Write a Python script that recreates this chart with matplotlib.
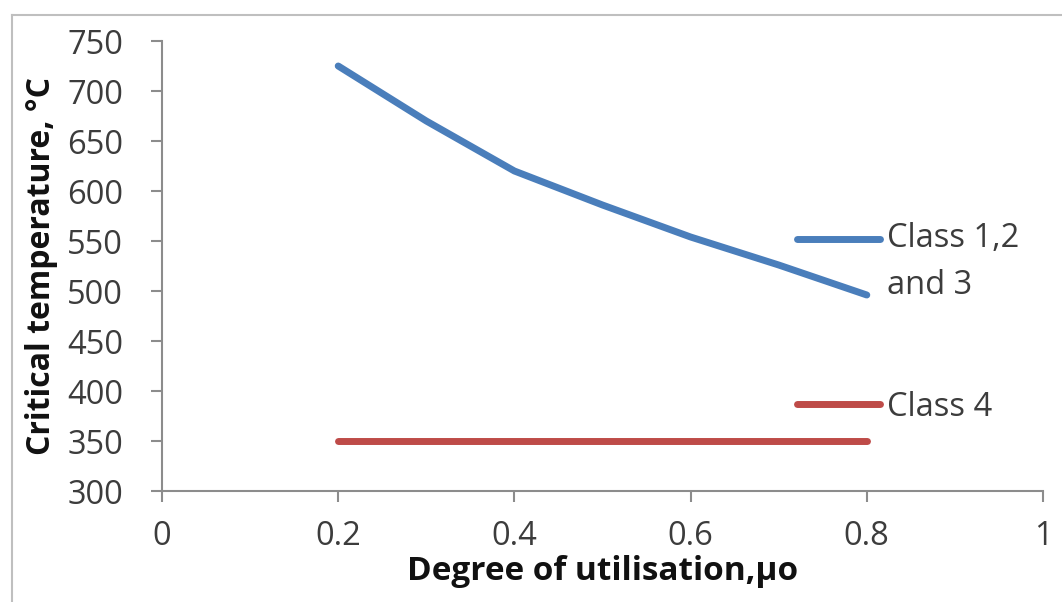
import matplotlib
matplotlib.use("Agg")
import numpy as np
import matplotlib.pyplot as plt
from matplotlib.lines import Line2D
from matplotlib.legend_handler import HandlerLine2D

# Data
mu = [0.2, 0.3, 0.4, 0.5, 0.6, 0.7, 0.8]
class123 = [725, 670, 620, 586, 554, 526, 496]
mu4 = [0.2, 0.8]
class4 = [350, 350]
x_ticks = [0, 0.2, 0.4, 0.6, 0.8, 1]
x_ticklabels = ["0", "0.2", "0.4", "0.6", "0.8", "1"]
y_ticks = [300, 350, 400, 450, 500, 550, 600, 650, 700, 750]
label1 = "Class 1,2\nand 3"
label2 = "Class 4"
xlabel = "Degree of utilisation,\u03bco"
ylabel = "Critical temperature, \u00b0C"

plt.rcParams['font.family'] = ['Open Sans', 'DejaVu Sans']


class ShiftedLineHandler(HandlerLine2D):
    def __init__(self, dy=0.0, **kw):
        super().__init__(**kw)
        self.dy = dy

    def create_artists(self, legend, orig_handle, xdescent, ydescent, width,
                       height, fontsize, trans):
        arts = super().create_artists(legend, orig_handle, xdescent, ydescent,
                                      width, height, fontsize, trans)
        for a in arts:
            a.set_ydata(np.asarray(a.get_ydata()) + self.dy)
        return arts


fig = plt.figure(figsize=(10.62, 6.02), dpi=100)
ax = fig.add_axes([162/1062, 1-491/602, (1043-162)/1062, (491-41)/602])

blue = "#4A7EBB"
red = "#BE4B48"
l1, = ax.plot(mu, class123, color=blue, lw=5, solid_capstyle='round', solid_joinstyle='round')
l2, = ax.plot(mu4, class4, color=red, lw=5, solid_capstyle='round')

ax.set_xlim(0, 1)
ax.set_ylim(300, 750)
ax.set_xticks(x_ticks)
ax.set_xticklabels(x_ticklabels)
ax.set_yticks(y_ticks)

for s in ['top', 'right']:
    ax.spines[s].set_visible(False)
for s in ['left', 'bottom']:
    ax.spines[s].set_color('#8C8C8C')
    ax.spines[s].set_linewidth(1.5)

tick_col = '#3C3C3C'
ax.tick_params(axis='both', direction='out', length=8, width=1.5, color='#8C8C8C',
               labelsize=23.5, labelcolor=tick_col)
ax.tick_params(axis='y', pad=20)
ax.tick_params(axis='x', pad=13)

ax.set_xlabel(xlabel, fontsize=24, fontweight='bold', color='#111111')
ax.xaxis.set_label_coords(0.5, -0.142)
ax.xaxis.label.set_verticalalignment('top')
ax.set_ylabel(ylabel, fontsize=23, fontweight='bold', color='#111111')
ax.yaxis.set_label_coords(-0.118, 0.5)

leg_kw = dict(loc='center left', frameon=False, fontsize=23.5, handlelength=2.55,
              handletextpad=0.2, borderaxespad=0, borderpad=0, labelcolor=tick_col)
leg1 = ax.legend([l1], [label1], bbox_to_anchor=((797-162)/881, (491-262)/450),
                 handler_map={l1: ShiftedLineHandler(dy=17.5)}, **leg_kw)
for t in leg1.get_texts():
    t.set_linespacing(1.55)
ax.add_artist(leg1)
leg2 = ax.legend([l2], [label2], bbox_to_anchor=((797-162)/881, (491-407)/450), **leg_kw)

# outer chart border
fig.add_artist(Line2D([12/1062, 1], [1-15/602, 1-15/602], color='#BFBFBF', lw=1.5))
fig.add_artist(Line2D([12/1062, 12/1062], [0, 1-15/602], color='#BFBFBF', lw=1.5))

fig.savefig("out.png", dpi=100, facecolor='white')
